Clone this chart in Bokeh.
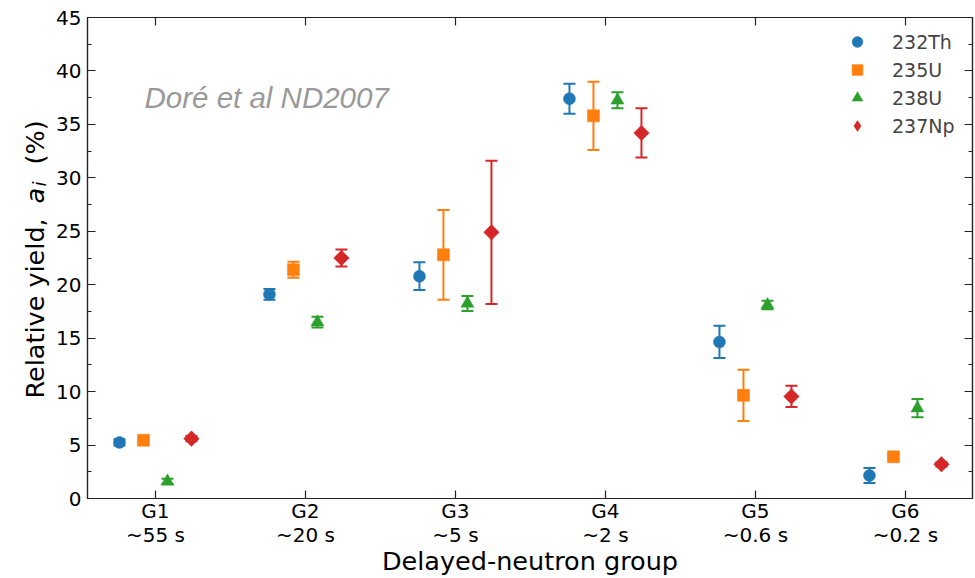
import numpy as np
from bokeh.plotting import figure
from bokeh.layouts import row
from bokeh.models import (ColumnDataSource, Whisker, TeeHead, Range1d, FixedTicker,
                          LinearAxis, Legend, LegendItem, Label)
from bokeh.embed import file_html
from bokeh.resources import INLINE

# ---- data ----
groups = ["G1", "G2", "G3", "G4", "G5", "G6"]
periods = ["~55 s", "~20 s", "~5 s", "~2 s", "~0.6 s", "~0.2 s"]

th232 = [5.25, 19.1, 20.8, 37.4, 14.65, 2.15]
th232_err = [0.3, 0.5, 1.3, 1.4, 1.5, 0.7]
u235 = [5.45, 21.4, 22.8, 35.8, 9.65, 3.9]
u235_err = [0.2, 0.75, 4.2, 3.2, 2.4, 0.2]
u238 = [1.6, 16.5, 18.25, 37.25, 18.1, 8.45]
u238_err = [0.25, 0.5, 0.7, 0.75, 0.4, 0.85]
np237 = [5.6, 22.5, 24.9, 34.2, 9.55, 3.2]
np237_err = [0.25, 0.8, 6.7, 2.3, 1.0, 0.2]

y_ticks = [0, 5, 10, 15, 20, 25, 30, 35, 40, 45]

series = [
    ("232Th", th232, th232_err, "#1f77b4", "circle", 12, 0.0, -0.24, "circle"),
    ("235U", u235, u235_err, "#ff7f0e", "square", 12, 0.0, -0.08, "square"),
    ("238U", u238, u238_err, "#2ca02c", "triangle", 13, 0.0, 0.08, "triangle"),
    ("237Np", np237, np237_err, "#d62728", "square", 11, np.pi / 4, 0.24, "diamond"),
]

FONT = "DejaVu Sans"
AX = "#222222"
LW = 53  # width of the y-label strip

p = figure(width=975 - LW, height=578, output_backend="svg", toolbar_location=None,
           x_range=Range1d(-0.453, 5.447), y_range=Range1d(0, 45),
           min_border_left=87 - LW, min_border_right=3, min_border_top=17,
           min_border_bottom=80)
p.grid.visible = False
p.outline_line_color = AX
p.outline_line_width = 1.2
p.background_fill_color = "white"
p.border_fill_color = "white"

xb = p.below[0]
yl = p.left[0]

items = []
idx = np.arange(len(groups))
for name, vals, errs, color, marker, size, ang, off, lmarker in series:
    v = np.array(vals, dtype=float)
    e = np.array(errs, dtype=float)
    src = ColumnDataSource(dict(x=idx + off, y=v, upper=v + e, lower=v - e))
    w = Whisker(base="x", upper="upper", lower="lower", source=src,
                line_color=color, line_width=2,
                upper_head=TeeHead(size=12, line_color=color, line_width=2),
                lower_head=TeeHead(size=12, line_color=color, line_width=2))
    p.add_layout(w)
    r = p.scatter("x", "y", source=src, marker=marker, size=size, angle=ang,
                  fill_color=color, line_color=color, line_width=0.5)
    if lmarker != marker:
        # legend proxy (never drawn in the plot area)
        r = p.scatter(x=[np.nan], y=[np.nan], marker=lmarker, fill_color=color,
                      line_color=color, line_width=0.5)
    items.append(LegendItem(label=name, renderers=[r]))

legend = Legend(items=items, location="top_right", margin=0, padding=11,
                glyph_width=38, glyph_height=27, spacing=1, label_standoff=16,
                label_width=69, label_text_font_size="19px", label_text_font=FONT,
                border_line_alpha=0, background_fill_alpha=0)
p.add_layout(legend)

# ---- axes ----
xt = FixedTicker(ticks=list(range(len(groups))))
yt = FixedTicker(ticks=y_ticks,
                 minor_ticks=list(np.arange(y_ticks[0], y_ticks[-1] + 0.1, 2.5)))

xb.ticker = xt
xb.major_label_overrides = {i: f"{g}\n{t}" for i, (g, t) in enumerate(zip(groups, periods))}
yl.ticker = yt

top = LinearAxis(ticker=xt)
right = LinearAxis(ticker=yt)
p.add_layout(top, "above")
p.add_layout(right, "right")

for ax in [xb, yl, top, right]:
    ax.major_tick_in = 8
    ax.major_tick_out = 0
    ax.minor_tick_in = 4
    ax.minor_tick_out = 0
    ax.axis_line_color = AX
    ax.axis_line_width = 1.2
    ax.major_tick_line_color = AX
    ax.major_tick_line_width = 1.2
    ax.minor_tick_line_color = AX
    ax.minor_tick_line_width = 1
    ax.major_label_text_font = FONT
    ax.major_label_text_font_size = "20px"
    ax.major_label_text_color = "black"
    ax.axis_label_text_font = FONT

xb.minor_tick_in = 0
top.minor_tick_in = 0
top.major_label_overrides = {i: "" for i in range(len(groups))}
right.major_label_overrides = {t: "" for t in y_ticks}
for ax in [top, right]:
    ax.major_label_standoff = 0
    ax.axis_label_standoff = 0

xb.major_label_standoff = 0
xb.major_label_text_line_height = 1.0
yl.major_label_standoff = 6
xb.axis_label = "Delayed-neutron group"
xb.axis_label_text_font_size = "25.5px"
xb.axis_label_text_font_style = "normal"
xb.axis_label_text_color = "black"
xb.axis_label_standoff = -4

# ---- y-axis label strip (italic a with subscript i) ----
lp = figure(width=LW, height=578, output_backend="svg", toolbar_location=None,
            x_range=Range1d(0, LW), y_range=Range1d(0, 578),
            min_border=0, min_border_left=0, min_border_right=0,
            x_axis_type=None, y_axis_type=None)
lp.grid.visible = False
lp.outline_line_color = None
lp.background_fill_color = "white"
lp.border_fill_color = "white"

bx = 34
y0 = 100
ylab = [
    ("Relative yield, ", bx, y0, "25.5px", "normal"),
    ("a", bx, y0 + 195, "25.5px", "italic"),
    ("i", bx + 5, y0 + 212, "18px", "italic"),
    ("(%)", bx, y0 + 234, "25.5px", "normal"),
]
for txt, lx, ly, fs, st in ylab:
    lp.add_layout(Label(x=lx, y=ly, x_units="screen", y_units="screen", text=txt,
                        angle=np.pi / 2, text_align="left", text_baseline="alphabetic",
                        text_font=FONT, text_font_size=fs, text_font_style=st,
                        text_color="black"))

p.add_layout(Label(x=57, y=401, x_units="screen", y_units="screen",
                   text="Doré et al ND2007", text_font="Liberation Sans",
                   text_font_style="italic", text_font_size="29.5px",
                   text_color="#999999", text_align="left", text_baseline="alphabetic"))

layout = row(lp, p, spacing=0)
open("out.html", "w").write(file_html(layout, INLINE))
